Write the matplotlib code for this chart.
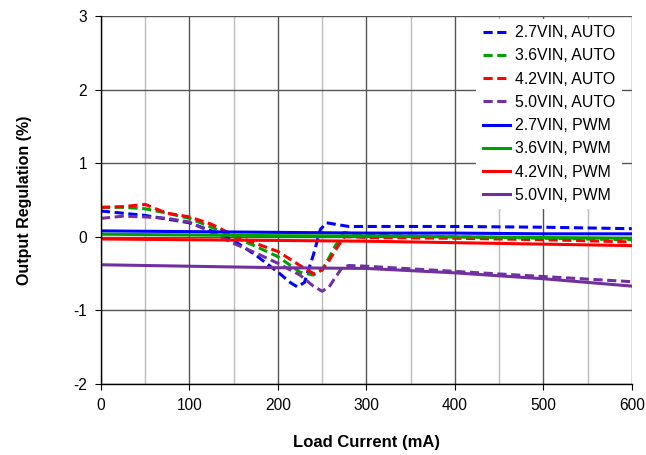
import matplotlib
matplotlib.use("Agg")
import matplotlib.pyplot as plt
from matplotlib.ticker import MultipleLocator

plt.rcParams["font.family"] = ["Liberation Sans", "DejaVu Sans"]
plt.rcParams["axes.unicode_minus"] = False

# AUTO mode (dashed)
x_27_auto = [0, 25, 50, 75, 100, 125, 150, 175, 200, 215, 222, 230, 240, 248, 255, 265, 280, 300, 400, 500, 600]
y_27_auto = [0.35, 0.32, 0.29, 0.24, 0.19, 0.08, -0.05, -0.25, -0.48, -0.63, -0.68, -0.62, -0.25, 0.1, 0.19, 0.17, 0.14, 0.14, 0.14, 0.13, 0.11]

x_36_auto = [0, 25, 50, 75, 100, 125, 150, 175, 200, 225, 240, 250, 258, 265, 275, 285, 300, 400, 500, 600]
y_36_auto = [0.4, 0.4, 0.38, 0.32, 0.25, 0.13, 0.0, -0.13, -0.27, -0.48, -0.52, -0.45, -0.28, -0.12, 0.06, 0.04, 0.02, 0.0, -0.02, -0.04]

x_42_auto = [0, 25, 50, 62, 75, 100, 125, 150, 175, 200, 225, 240, 250, 258, 265, 275, 285, 300, 400, 500, 600]
y_42_auto = [0.4, 0.41, 0.44, 0.38, 0.32, 0.27, 0.17, 0.02, -0.09, -0.2, -0.39, -0.5, -0.45, -0.32, -0.18, 0.0, 0.0, -0.01, -0.02, -0.04, -0.07]

x_50_auto = [0, 25, 50, 75, 100, 125, 150, 175, 200, 225, 240, 250, 258, 265, 272, 280, 300, 400, 500, 600]
y_50_auto = [0.25, 0.28, 0.27, 0.25, 0.2, 0.06, -0.09, -0.22, -0.36, -0.52, -0.67, -0.74, -0.68, -0.55, -0.43, -0.39, -0.4, -0.47, -0.54, -0.61]

# PWM mode (solid)
x_pwm = [0, 100, 200, 300, 400, 500, 600]
y_27_pwm = [0.08, 0.07, 0.06, 0.05, 0.05, 0.04, 0.04]
y_36_pwm = [0.035, 0.025, 0.015, 0.01, 0.0, -0.01, -0.02]
y_42_pwm = [-0.03, -0.04, -0.05, -0.06, -0.08, -0.1, -0.12]
y_50_pwm = [-0.38, -0.40, -0.42, -0.43, -0.49, -0.57, -0.67]

blue = "#0000FF"
green = "#00A000"
red = "#FF0000"
purple = "#7030A0"

fig = plt.figure(figsize=(6.46, 4.55), dpi=100)
ax = fig.add_axes([0.1563, 0.156, 0.8217, 0.809])

dash = (0, (3, 1.5))
lw = 2.2
ax.plot(x_27_auto, y_27_auto, color=blue, lw=lw, linestyle=dash, label="2.7VIN, AUTO")
ax.plot(x_36_auto, y_36_auto, color=green, lw=lw, linestyle=dash, label="3.6VIN, AUTO")
ax.plot(x_42_auto, y_42_auto, color=red, lw=lw, linestyle=dash, label="4.2VIN, AUTO")
ax.plot(x_50_auto, y_50_auto, color=purple, lw=lw, linestyle=dash, label="5.0VIN, AUTO")
ax.plot(x_pwm, y_27_pwm, color=blue, lw=lw, label="2.7VIN, PWM")
ax.plot(x_pwm, y_36_pwm, color=green, lw=lw, label="3.6VIN, PWM")
ax.plot(x_pwm, y_42_pwm, color=red, lw=lw, label="4.2VIN, PWM")
ax.plot(x_pwm, y_50_pwm, color=purple, lw=lw, label="5.0VIN, PWM")

ax.set_xlim(0, 600)
ax.set_ylim(-2, 3)
ax.xaxis.set_major_locator(MultipleLocator(100))
ax.xaxis.set_minor_locator(MultipleLocator(50))
ax.yaxis.set_major_locator(MultipleLocator(1))

ax.grid(which="major", axis="both", color="#555555", lw=1.0)
ax.grid(which="minor", axis="x", color="#BBBBBB", lw=1.0)
ax.set_axisbelow(True)

for s in ["top", "right"]:
    ax.spines[s].set_visible(False)
for s in ["left", "bottom"]:
    ax.spines[s].set_color("black")
    ax.spines[s].set_linewidth(1.0)

ax.tick_params(which="major", direction="out", length=4, labelsize=11.2, colors="black", pad=6)
ax.tick_params(which="minor", length=0)

ax.set_xlabel("Load Current (mA)", fontsize=12, fontweight="bold", labelpad=16)
ax.set_ylabel("Output Regulation (%)", fontsize=11.5, fontweight="bold", labelpad=30)

leg = ax.legend(loc="upper right", bbox_to_anchor=(1 - 10 / 531, 1 - 3 / 368),
                fontsize=11.4, frameon=True, fancybox=False,
                framealpha=1, edgecolor="white", handlelength=1.7,
                labelspacing=0.52, borderaxespad=0.0, handletextpad=0.35)
leg.get_frame().set_linewidth(0)

fig.savefig("out.png", dpi=100)
